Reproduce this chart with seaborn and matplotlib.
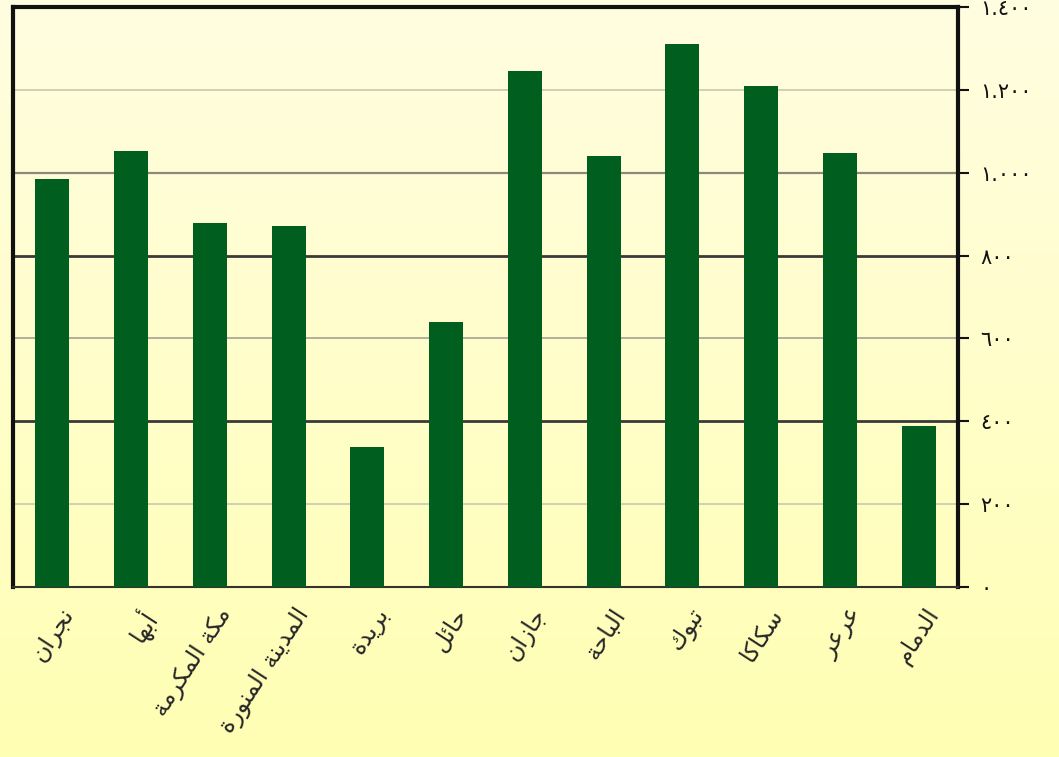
import numpy as np
import pandas as pd
import matplotlib
matplotlib.use("Agg")
import matplotlib.pyplot as plt
import seaborn as sns

# Data
cities = ["نجران", "أبها", "مكة المكرمة", "المدينة المنورة", "بريدة", "حائل",
          "جازان", "الباحة", "تبوك", "سكاكا", "عرعر", "الدمام"]
values = [985, 1052, 879, 871, 338, 640, 1245, 1040, 1311, 1209, 1048, 389]
y_ticks = [0, 200, 400, 600, 800, 1000, 1200, 1400]
y_tick_labels = ["٠", "٢٠٠", "٤٠٠", "٦٠٠", "٨٠٠", "١.٠٠٠", "١.٢٠٠", "١.٤٠٠"]

# Small Arabic shaper: presentation forms (isolated base code) + dual-joining flag
FORMS = {
    "ا": (0xFE8D, False), "أ": (0xFE83, False), "ة": (0xFE93, False),
    "د": (0xFEA9, False), "ر": (0xFEAD, False), "ز": (0xFEAF, False),
    "و": (0xFEED, False),
    "ب": (0xFE8F, True), "ت": (0xFE95, True), "ج": (0xFE9D, True),
    "ح": (0xFEA1, True), "س": (0xFEB1, True), "ع": (0xFEC9, True),
    "ك": (0xFED9, True), "ل": (0xFEDD, True), "م": (0xFEE1, True),
    "ن": (0xFEE5, True), "ه": (0xFEE9, True), "ي": (0xFEF1, True),
    "ئ": (0xFE89, True),
}


def shape(text):
    out = []
    for i, ch in enumerate(text):
        if ch not in FORMS:
            out.append(ch)
            continue
        base, dual = FORMS[ch]
        prev = text[i - 1] if i > 0 else None
        nxt = text[i + 1] if i + 1 < len(text) else None
        join_prev = prev in FORMS and FORMS[prev][1]
        join_next = dual and nxt in FORMS
        if join_prev and join_next:
            code = base + 3
        elif join_prev:
            code = base + 1
        elif join_next:
            code = base + 2
        else:
            code = base
        out.append(chr(code))
    return "".join(out)[::-1]


df = pd.DataFrame({"city": [shape(c) for c in cities], "value": values})

sns.set_style("white")
plt.rcParams["font.family"] = ["DejaVu Sans"]

fig = plt.figure(figsize=(10.59, 7.57), dpi=100)

# gradient background over the whole figure
bg = fig.add_axes([0, 0, 1, 1], zorder=-10)
grad = np.linspace(0, 1, 256).reshape(-1, 1)
cmap = matplotlib.colors.LinearSegmentedColormap.from_list("bg", ["#FFFDE0", "#FFFFB3"])
bg.imshow(grad, aspect="auto", cmap=cmap, extent=[0, 1, 0, 1])
bg.axis("off")

ax = fig.add_axes([0.0123, 0.2246, 0.8923, 0.7662])
ax.set_facecolor("none")

sns.barplot(data=df, x="city", y="value", color="#005E1E", width=0.43,
            saturation=1, linewidth=0, ax=ax, zorder=3)

ax.set_xlim(-0.5, len(cities) - 0.5)
ax.set_ylim(0, 1400)

# gridlines: alternating darker / lighter like the original
grid_style = {200: ("#c8c8b0", 1.2), 400: ("#3a3a3a", 2.0), 600: ("#b0b09a", 1.4),
              800: ("#3a3a3a", 2.0), 1000: ("#8a8a7a", 1.6), 1200: ("#c8c8b0", 1.2)}
for yv, (c, lw) in grid_style.items():
    ax.axhline(yv, color=c, lw=lw, zorder=1)

ax.yaxis.tick_right()
ax.set_yticks(y_ticks)
ax.set_yticklabels(y_tick_labels, fontsize=15)
ax.tick_params(axis="y", direction="out", length=8, width=1.5, pad=8, colors="#111111")

# x ticks at category boundaries, labels at bar centres
ax.set_xticks(np.arange(len(cities) + 1) - 0.5)
ax.set_xticklabels([])
ax.tick_params(axis="x", direction="out", length=8, width=1.5, colors="#222222")
for i, lab in enumerate(df["city"]):
    ax.text(i + 0.08, -40, lab, rotation=57, ha="right", va="top",
            fontsize=17, rotation_mode="anchor", transform=ax.transData)

ax.set_xlabel("")
ax.set_ylabel("")
for side in ["left", "right", "top"]:
    ax.spines[side].set_visible(True)
    ax.spines[side].set_color("#111111")
    ax.spines[side].set_linewidth(3)
ax.spines["bottom"].set_color("#333333")
ax.spines["bottom"].set_linewidth(1.5)

fig.savefig("out.png", dpi=100)
